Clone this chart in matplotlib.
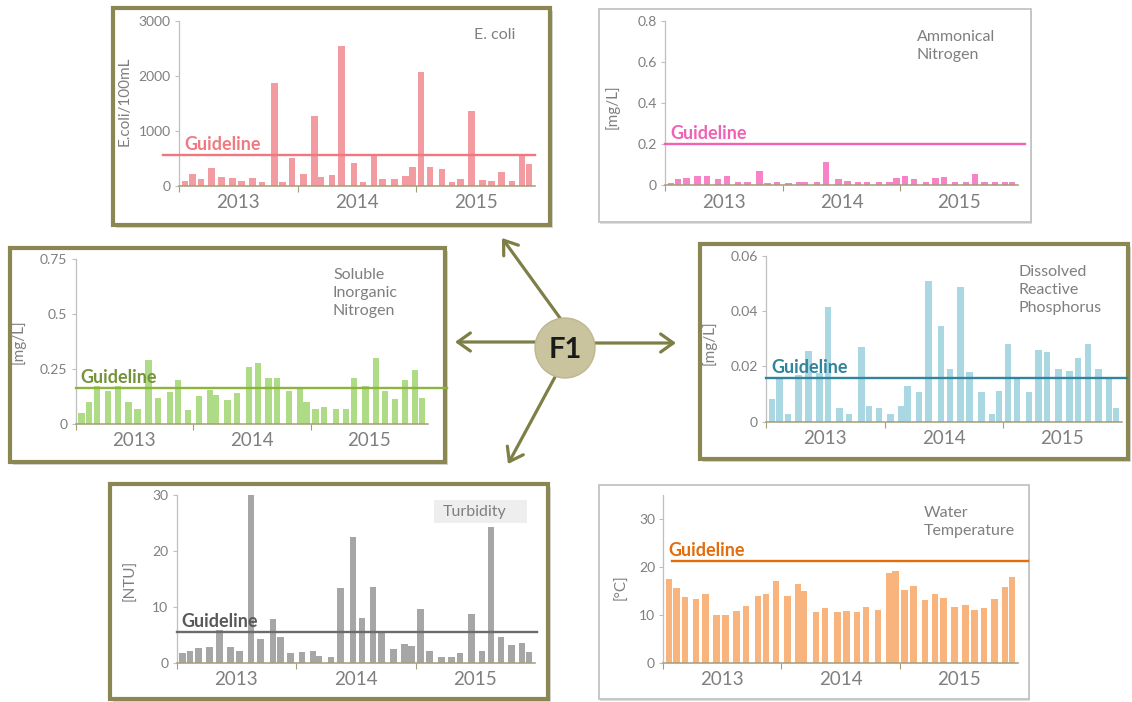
import matplotlib
matplotlib.use('Agg')
import matplotlib.pyplot as plt
from matplotlib.patches import Rectangle, Circle, FancyArrowPatch, ArrowStyle
from matplotlib.transforms import offset_copy

plt.rcParams['font.family'] = ['Lato', 'DejaVu Sans']

W, H = 1132, 702

# ---------------- data ----------------
# sampling times, in months from the start of the 2013 window
sample_month = [0.6, 1.35, 2.2, 3.3, 4.3, 5.4, 6.3, 7.45, 8.4, 9.65, 10.45, 11.45,
                12.6, 13.7, 14.3, 15.5, 16.45, 17.7, 18.6, 19.7, 20.6, 21.8, 22.9, 23.6,
                24.5, 25.4, 26.6, 27.6, 28.45, 29.6, 30.7, 31.6, 32.6, 33.65, 34.7, 35.4]
year_labels = ['2013', '2014', '2015']

ecoli = [90, 220, 120, 315, 150, 135, 80, 135, 60, 1860,
         60, 500, 205, 1265, 150, 190, 2545, 405, 60, 560,
         120, 120, 175, 335, 2060, 335, 300, 60, 120, 1360,
         100, 85, 250, 85, 560, 395]
ammonia = [0.013, 0.029, 0.034, 0.047, 0.047, 0.031, 0.047, 0.015, 0.015, 0.068,
           0.013, 0.015, 0.013, 0.015, 0.015, 0.015, 0.115, 0.029, 0.021, 0.015,
           0.018, 0.015, 0.015, 0.037, 0.044, 0.031, 0.015, 0.034, 0.039, 0.015,
           0.015, 0.053, 0.015, 0.018, 0.015, 0.015]
sin_n = [0.048, 0.10, 0.174, 0.15, 0.171, 0.10, 0.068, 0.29, 0.12, 0.147,
         0.20, 0.064, 0.129, 0.155, 0.132, 0.109, 0.139, 0.258, 0.276, 0.21,
         0.208, 0.15, 0.162, 0.10, 0.068, 0.076, 0.068, 0.068, 0.208, 0.173,
         0.30, 0.15, 0.114, 0.20, 0.245, 0.117]
drp = [0.0083, 0.0153, 0.0027, 0.0169, 0.0255, 0.0175, 0.0416, 0.0048, 0.0029, 0.0269,
       0.0058, 0.0048, 0.0029, 0.0058, 0.013, 0.0108, 0.051, 0.0346, 0.0189, 0.0488,
       0.018, 0.0108, 0.0029, 0.0111, 0.028, 0.0157, 0.0108, 0.0259, 0.0252, 0.019,
       0.0183, 0.0231, 0.028, 0.019, 0.0163, 0.0048]
turbidity = [1.7, 2.15, 2.75, 2.9, 5.9, 2.9, 2.2, 30, 4.3, 7.9,
             4.65, 1.8, 1.97, 2.15, 1.3, 1.07, 13.5, 22.5, 8.1, 13.65,
             5.66, 2.5, 3.4, 2.98, 9.6, 2.2, 1.13, 1.13, 1.85, 8.77,
             2.2, 24.3, 4.7, 3.2, 3.5, 1.97]
temperature = [17.5, 15.7, 13.7, 13.4, 14.5, 10.1, 9.95, 10.85, 12.0, 14.05,
               14.5, 17.05, 14.05, 16.6, 15.0, 10.7, 11.5, 10.7, 10.85, 10.7,
               11.7, 11.1, 18.8, 19.2, 15.2, 16.1, 13.15, 14.5, 13.6, 11.7,
               12.1, 11.1, 11.55, 13.3, 15.8, 17.9]

guide_ecoli, guide_ammonia, guide_sin, guide_drp, guide_turb, guide_temp = 550, 0.2, 0.165, 0.0157, 5.6, 21.4

yt_ecoli = [0, 1000, 2000, 3000]
yt_ammonia = [0, 0.2, 0.4, 0.6, 0.8]
yt_sin = [0, 0.25, 0.5, 0.75]
yt_drp = [0, 0.02, 0.04, 0.06]
yt_turb = [0, 10, 20, 30]
yt_temp = [0, 10, 20, 30]
ytl_ecoli = ['0', '1000', '2000', '3000']
ytl_ammonia = ['0', '0.2', '0.4', '0.6', '0.8']
ytl_sin = ['0', '0.25', '0.5', '0.75']
ytl_drp = ['0', '0.02', '0.04', '0.06']
ytl_turb = ['0', '10', '20', '30']
ytl_temp = ['0', '10', '20', '30']

# ---------------- figure ----------------
fig = plt.figure(figsize=(W / 100, H / 100), dpi=100)
fig.patch.set_facecolor('white')
bg = fig.add_axes([0, 0, 1, 1])
bg.set_xlim(0, W)
bg.set_ylim(H, 0)
bg.axis('off')

OLIVE = '#8B8752'
GRAY_TXT = '#7F7F7F'
TITLE_FS = 11.5

boxes = [  # (L, T, R, B, thick)
    (113, 8, 550, 225, True),
    (599, 9, 1031, 222, False),
    (10, 248, 445, 462, True),
    (700, 244, 1128, 459, True),
    (110, 484, 548, 699, True),
    (599, 485, 1029, 699, False),
]
for L, T, R, B, thick in boxes:
    if thick:
        bg.add_patch(Rectangle((L + 3, T + 3), R - L, B - T, facecolor='#C9C9C9',
                               edgecolor='none', alpha=0.7, zorder=1))
        bg.add_patch(Rectangle((L, T), R - L, B - T, facecolor='white',
                               edgecolor=OLIVE, lw=3.0, zorder=2))
    else:
        bg.add_patch(Rectangle((L + 1, T + 2), R - L, B - T, facecolor='#E0E0E0',
                               edgecolor='none', zorder=1))
        bg.add_patch(Rectangle((L, T), R - L, B - T, facecolor='white',
                               edgecolor='#BFBFBF', lw=1.2, zorder=2))

# arrows from F1
arrow_color = '#7E7F47'
arrows = [((560, 318), (502, 238)), ((537, 342), (455, 342)),
          ((594, 343), (676, 343)), ((555, 377), (508, 464))]
for a, b in arrows:
    bg.add_patch(FancyArrowPatch(a, b, arrowstyle=ArrowStyle('->', head_length=0.7, head_width=0.5),
                                 mutation_scale=13, lw=2.3, color=arrow_color,
                                 shrinkA=0, shrinkB=0, zorder=3))
bg.add_patch(Circle((565, 348), 30, facecolor='#C9C39E', edgecolor='#BDB78F', lw=1, zorder=4))
bg.text(565, 350, 'F1', ha='center', va='center', fontsize=21, fontweight='bold',
        color='#1A1A1A', zorder=5)

# panel titles
bg.text(474, 35, 'E. coli', ha='left', va='center', fontsize=TITLE_FS, color=GRAY_TXT, zorder=5)
bg.text(917, 46, 'Ammonical\nNitrogen', ha='left', va='center', fontsize=TITLE_FS,
        color=GRAY_TXT, linespacing=1.35, zorder=5)
bg.text(333, 293, 'Soluble\nInorganic\nNitrogen', ha='left', va='center', fontsize=TITLE_FS,
        color=GRAY_TXT, linespacing=1.35, zorder=5)
bg.text(1018, 290, 'Dissolved\nReactive\nPhosphorus', ha='left', va='center', fontsize=TITLE_FS,
        color=GRAY_TXT, linespacing=1.35, zorder=5)
bg.add_patch(Rectangle((434, 500), 93, 23, facecolor='#EEEEEE', edgecolor='none', zorder=3))
bg.text(443, 512, 'Turbidity', ha='left', va='center', fontsize=TITLE_FS, color=GRAY_TXT, zorder=5)
bg.text(924, 522, 'Water\nTemperature', ha='left', va='center', fontsize=TITLE_FS,
        color=GRAY_TXT, linespacing=1.35, zorder=5)


def panel(rect_px, values, ymax, yticks, yticklabels, bar_color, guide, guide_color,
          guide_txt_color, guide_span, ylabel, ylabel_px):
    L, T, R, B = rect_px
    ax = fig.add_axes([L / W, 1 - B / H, (R - L) / W, (B - T) / H])
    ax.patch.set_alpha(0)
    ax.bar(sample_month, values, width=0.65, color=bar_color, zorder=2)
    ax.set_xlim(0, 36)
    ax.set_ylim(0, ymax)
    ax.plot(guide_span, [guide, guide], color=guide_color, lw=1.7, zorder=3, clip_on=False)
    tr = offset_copy(ax.transData, fig=fig, x=0, y=5, units='dots')
    ax.text(0.5, guide, 'Guideline', transform=tr, color=guide_txt_color, fontsize=13,
            fontweight='bold', ha='left', va='baseline', zorder=4)
    for s in ['top', 'right']:
        ax.spines[s].set_visible(False)
    ax.spines['left'].set_color('#BFBFBF')
    ax.spines['left'].set_linewidth(0.9)
    ax.spines['bottom'].set_color('#A39D78')
    ax.spines['bottom'].set_linewidth(1.1)
    ax.set_yticks(yticks)
    ax.set_yticklabels(yticklabels)
    ax.tick_params(axis='y', length=3, color='#BFBFBF', labelsize=10, labelcolor=GRAY_TXT, pad=3)
    ax.set_xticks([0, 12, 24])
    ax.set_xticklabels([])
    ax.set_xticks([6, 18, 30], minor=True)
    ax.set_xticklabels(year_labels, minor=True)
    ax.tick_params(axis='x', which='major', length=4, color='#A39D78')
    ax.tick_params(axis='x', which='minor', length=0, labelsize=13.5, labelcolor=GRAY_TXT, pad=6)
    ax.set_ylabel(ylabel, fontsize=11, color=GRAY_TXT)
    # label anchor = right edge of the rotated text, vertical centre
    ax.yaxis.set_label_coords((ylabel_px[0] - L) / (R - L), (B - ylabel_px[1]) / (B - T))
    return ax


panel((179, 20.7, 535, 185.7), ecoli, 3000, yt_ecoli, ytl_ecoli, '#F29CA2',
      guide_ecoli, '#F27680', '#F07A82', [-1.6, 36], 'E.coli/100mL', (132, 101))
panel((665, 20.7, 1018, 185.3), ammonia, 0.8, yt_ammonia, ytl_ammonia, '#F783C6',
      guide_ammonia, '#F062B5', '#F062B5', [0, 36.7], '[mg/L]', (620, 107))
panel((75.7, 259, 428, 424), sin_n, 0.75, yt_sin, ytl_sin, '#AEDB86',
      guide_sin, '#8DB43C', '#76933C', [0, 37.9], '[mg/L]', (26, 342))
panel((766, 255.7, 1121.7, 421.7), drp, 0.06, yt_drp, ytl_drp, '#A9D8E3',
      guide_drp, '#31849B', '#31849B', [0, 36.5], '[mg/L]', (717, 343))
panel((176.7, 495.3, 535, 663), turbidity, 30, yt_turb, ytl_turb, '#A6A6A6',
      guide_turb, '#6B6B6B', '#595959', [0, 36.2], '[NTU]', (138, 580))
panel((663.3, 495.4, 1017.7, 663), temperature, 35, yt_temp, ytl_temp, '#F9B47E',
      guide_temp, '#E46C0A', '#E46C0A', [0.9, 37], '[°C]', (628, 587))

fig.savefig('out.png', dpi=100, facecolor='white')
